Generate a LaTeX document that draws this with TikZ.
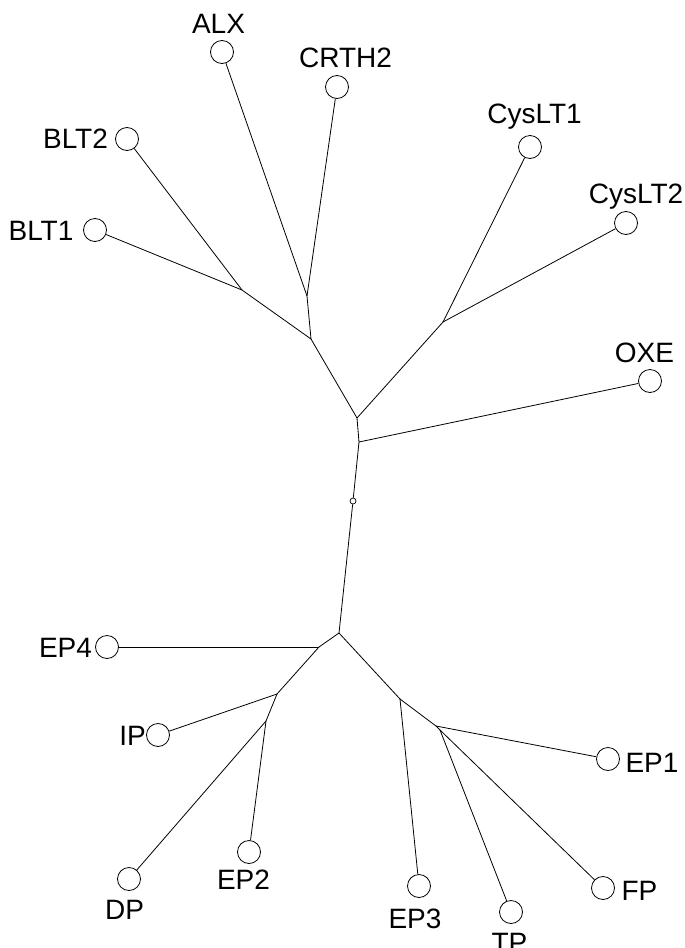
\documentclass[tikz,border=0pt]{standalone}
\usepackage{fontspec}
\newfontfamily\treefont{Liberation Sans}
\tikzset{
  leaf/.style={circle, draw, line width=0.8pt, minimum size=23pt, inner sep=0pt},
  rootmark/.style={circle, draw, line width=0.7pt, minimum size=6pt, inner sep=0pt},
  lab/.style={font=\treefont\fontsize{28}{32}\selectfont, inner sep=0pt, anchor=base},
  branch/.style={line width=0.8pt}
}
\begin{document}
\begin{tikzpicture}[x=1pt,y=-1pt]
\useasboundingbox (0,0) rectangle (685,948);

% leaves
\node[leaf] (ALX)    at (222,52)  {};
\node[leaf] (CRTH2)  at (337,87)  {};
\node[leaf] (BLT2)   at (127,139) {};
\node[leaf] (BLT1)   at (95,230)  {};
\node[leaf] (CysLT1) at (530,147) {};
\node[leaf] (CysLT2) at (626,223) {};
\node[leaf] (OXE)    at (650,381) {};
\node[leaf] (EP4)    at (107,647) {};
\node[leaf] (IP)     at (158,735) {};
\node[leaf] (EP1)    at (608,759) {};
\node[leaf] (DP)     at (129,879) {};
\node[leaf] (EP2)    at (249,852) {};
\node[leaf] (EP3)    at (419,886) {};
\node[leaf] (TP)     at (511,912) {};
\node[leaf] (FP)     at (603,888) {};

% labels
\node[lab] (tALX)    at (218.5,33) {ALX};
\node[lab] (tCRTH2)  at (345.5,67) {CRTH2};
\node[lab] (tBLT2)   at (75.5,148) {BLT2};
\node[lab] (tBLT1)   at (41,240)   {BLT1};
\node[lab] (tCysLT1) at (534.5,123) {CysLT1};
\node[lab] (tCysLT2) at (636,203)  {CysLT2};
\node[lab] (tOXE)    at (644.5,362) {OXE};
\node[lab] (tEP4)    at (65.5,657) {EP4};
\node[lab] (tIP)     at (132.5,745) {IP};
\node[lab] (tEP1)    at (652,772)  {EP1};
\node[lab] (tFP)     at (639.5,900) {FP};
\node[lab] (tDP)     at (124.5,919) {DP};
\node[lab] (tEP2)    at (243.5,889) {EP2};
\node[lab] (tEP3)    at (415,928)  {EP3};
\node[lab] (tTP)     at (509.5,952) {TP};

% internal nodes
\coordinate (jBLT) at (242,290);
\coordinate (jAC)  at (307,296);
\coordinate (jA)   at (311,339);
\coordinate (jCys) at (443,322);
\coordinate (jB)   at (357,418);
\coordinate (jC)   at (359,442);
\node[rootmark] (root) at (353,501) {};
\coordinate (jD)   at (339,633);
\coordinate (jEP4) at (319,647);
\coordinate (jIP)  at (277,694);
\coordinate (jDP)  at (266,721);
\coordinate (jR)   at (400,699);
\coordinate (jEP1) at (436,726);
\coordinate (jTF)  at (440,730);

% branches
\draw[branch] (BLT1) -- (jBLT);
\draw[branch] (BLT2) -- (jBLT);
\draw[branch] (jBLT) -- (jA);
\draw[branch] (ALX) -- (jAC);
\draw[branch] (CRTH2) -- (jAC);
\draw[branch] (jAC) -- (jA);
\draw[branch] (jA) -- (jB);
\draw[branch] (CysLT1) -- (jCys);
\draw[branch] (CysLT2) -- (jCys);
\draw[branch] (jCys) -- (jB);
\draw[branch] (jB) -- (jC);
\draw[branch] (OXE) -- (jC);
\draw[branch] (jC) -- (root);
\draw[branch] (root) -- (jD);
\draw[branch] (jD) -- (jEP4);
\draw[branch] (EP4) -- (jEP4);
\draw[branch] (jEP4) -- (jIP);
\draw[branch] (IP) -- (jIP);
\draw[branch] (jIP) -- (jDP);
\draw[branch] (DP) -- (jDP);
\draw[branch] (EP2) -- (jDP);
\draw[branch] (jD) -- (jR);
\draw[branch] (jR) -- (EP3);
\draw[branch] (jR) -- (jEP1);
\draw[branch] (EP1) -- (jEP1);
\draw[branch] (jEP1) -- (jTF);
\draw[branch] (TP) -- (jTF);
\draw[branch] (FP) -- (jTF);
\end{tikzpicture}
\end{document}
